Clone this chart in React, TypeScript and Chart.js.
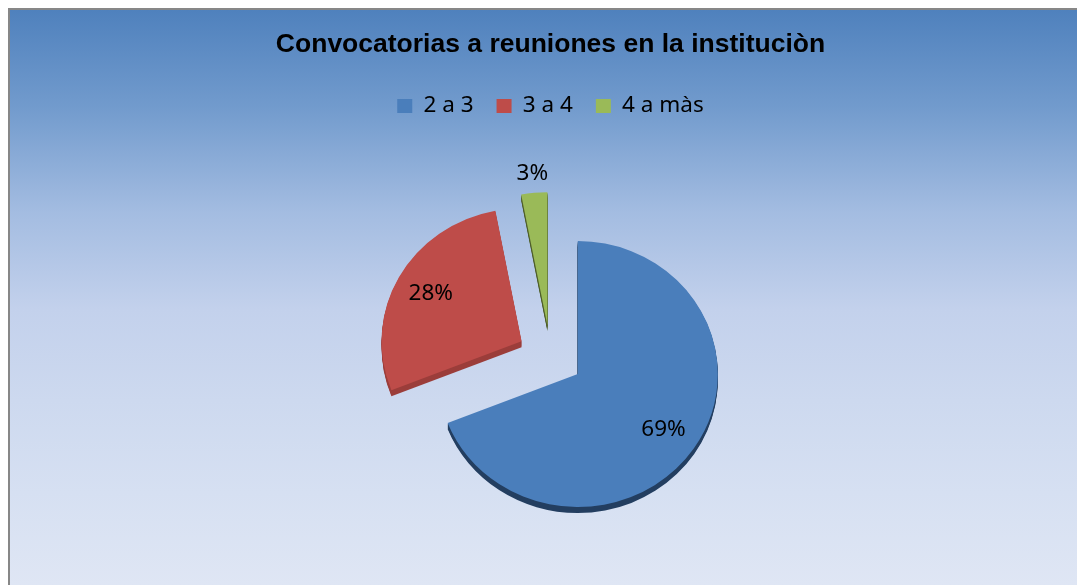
import { useEffect, useRef } from 'react';
import { Chart, registerables } from 'chart.js';

Chart.register(...registerables);

const titleText = 'Convocatorias a reuniones en la instituciòn';
const categories = ['2 a 3', '3 a 4', '4 a màs'];
const values = [69, 28, 3];
const sliceColors = ['#4a7ebb', '#be4c49', '#9aba58'];
const sideColors = ['#233e60', '#9b3d3a', '#4e5e2a'];

const EXPLODE = 33;
const DEPTH = 6;
const Y_SCALE = 0.95;
const LABEL_FONT = '22.5px "Noto Sans", "Open Sans", sans-serif';

function tiltAround(ctx: CanvasRenderingContext2D, arc: any) {
  ctx.translate(arc.x, arc.y);
  ctx.scale(1, Y_SCALE);
  ctx.translate(-arc.x, -arc.y);
}

function explodeVec(arc: any) {
  const mid = (arc.startAngle + arc.endAngle) / 2;
  return [Math.cos(mid) * EXPLODE, Math.sin(mid) * EXPLODE];
}

const pie3dPlugin = {
  id: 'pie3d',
  beforeDatasetDraw(chart: any, args: any) {
    const ctx = chart.ctx as CanvasRenderingContext2D;
    const arcs = chart.getDatasetMeta(args.index).data as any[];
    // side faces (depth)
    arcs.forEach((arc, i) => {
      const [dx, dy] = explodeVec(arc);
      ctx.fillStyle = sideColors[i];
      for (let d = 1; d <= DEPTH; d++) {
        ctx.save();
        ctx.translate(0, d);
        tiltAround(ctx, arc);
        ctx.beginPath();
        ctx.moveTo(arc.x + dx, arc.y + dy);
        ctx.arc(arc.x + dx, arc.y + dy, arc.outerRadius, arc.startAngle, arc.endAngle);
        ctx.closePath();
        ctx.fill();
        ctx.restore();
      }
    });
    // top faces
    arcs.forEach((arc) => {
      const [dx, dy] = explodeVec(arc);
      ctx.save();
      tiltAround(ctx, arc);
      ctx.translate(dx, dy);
      arc.draw(ctx);
      ctx.restore();
    });
    return false;
  },
  afterDatasetsDraw(chart: any) {
    const ctx = chart.ctx as CanvasRenderingContext2D;
    const arcs = chart.getDatasetMeta(0).data as any[];
    const data = chart.data.datasets[0].data as number[];
    const total = data.reduce((a, b) => a + b, 0);
    ctx.save();
    ctx.font = LABEL_FONT;
    ctx.fillStyle = '#000';
    ctx.textAlign = 'center';
    ctx.textBaseline = 'middle';
    arcs.forEach((arc, i) => {
      const mid = (arc.startAngle + arc.endAngle) / 2;
      const span = arc.endAngle - arc.startAngle;
      const dist = EXPLODE + (span < 0.4 ? arc.outerRadius + 20 : arc.outerRadius * 0.74);
      const text = Math.round((data[i] / total) * 100) + '%';
      const lx = arc.x + Math.cos(mid) * dist;
      const ly = arc.y + Math.sin(mid) * dist * Y_SCALE;
      ctx.fillText(text, lx, ly);
    });
    ctx.restore();
  },
};

export default function App() {
  const canvasRef = useRef<HTMLCanvasElement | null>(null);

  useEffect(() => {
    const canvas = canvasRef.current;
    if (!canvas) return;
    const chart = new Chart(canvas, {
      type: 'pie',
      data: {
        labels: categories,
        datasets: [
          {
            data: values,
            backgroundColor: sliceColors,
            borderWidth: 0,
          },
        ],
      },
      options: {
        responsive: false,
        animation: false,
        radius: 140,
        layout: { padding: { left: 14, right: 0, top: 0, bottom: 4.5 } },
        plugins: {
          tooltip: { enabled: false },
          title: {
            display: true,
            text: titleText,
            color: '#000',
            font: { family: '"Liberation Sans", Arial, sans-serif', size: 26.5, weight: 'bold' },
            padding: { top: 19, bottom: 11 },
          },
          legend: {
            display: true,
            position: 'top',
            labels: {
              color: '#000',
              font: { family: '"Noto Sans", "Open Sans", sans-serif', size: 22.5 },
              boxWidth: 15,
              boxHeight: 14,
              padding: 23,
            },
          },
        },
      } as any,
      plugins: [pie3dPlugin as any],
    });
    return () => chart.destroy();
  }, []);

  return (
    <div
      style={{
        position: 'fixed',
        left: 8,
        top: 8,
        width: 1067,
        height: 575,
        overflow: 'hidden',
        borderLeft: '2px solid #878787',
        borderTop: '2px solid #878787',
        background:
          'linear-gradient(to bottom, #4f81bd 0%, #729bcd 17%, #a3bce1 35%, #c3d1ec 52%, #cdd9ef 68%, #d6e0f2 84%, #dfe6f4 100%)',
      }}
    >
      <canvas ref={canvasRef} width={1067} height={580} style={{ display: 'block' }} />
    </div>
  );
}
